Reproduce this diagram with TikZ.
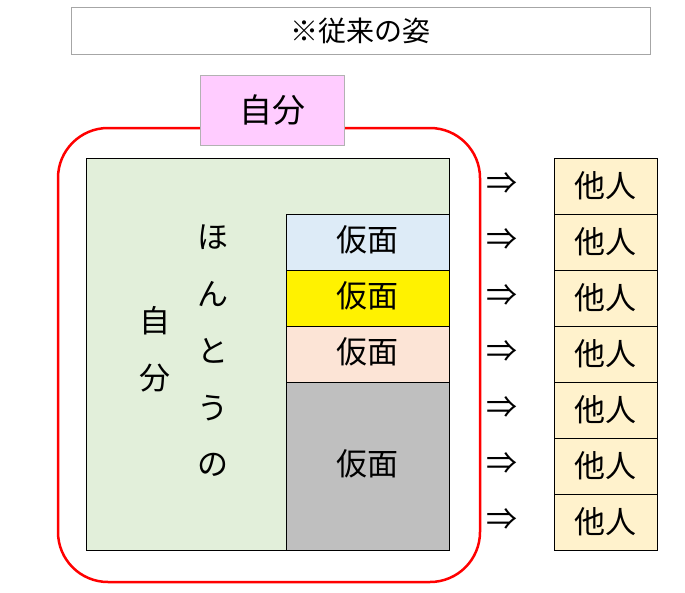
\documentclass[tikz,border=0pt]{standalone}
\usepackage{fontspec}
\setmainfont{Noto Sans CJK JP}
\definecolor{gr}{RGB}{226,239,218}
\definecolor{bl}{RGB}{221,235,247}
\definecolor{pk}{RGB}{252,228,214}
\definecolor{gy}{RGB}{191,191,191}
\definecolor{yl}{RGB}{255,242,204}
\definecolor{mg}{RGB}{255,204,255}
\begin{document}
\begin{tikzpicture}[x=1pt,y=-1pt,
  t/.style={font=\fontsize{31}{33}\selectfont,inner sep=0pt}]
\useasboundingbox (0,0) rectangle (685,592);
\node[draw=black!35,line width=1pt,minimum width=579pt,minimum height=47pt,font=\fontsize{28}{30}\selectfont] (title) at (360.5,30.5) {※従来の姿};
\draw[red,line width=2.5pt,rounded corners=50pt] (58,128) rectangle (480,582);
\node[draw=black!30,fill=mg,line width=1pt,minimum width=144pt,minimum height=70pt,font=\fontsize{33}{35}\selectfont] (me) at (272,110) {自分};
\fill[gr] (86,158) rectangle (449,550);
\draw[line width=0.8pt] (86,158) rectangle (449,550);
\node[t] (j1) at (155,321) {自};
\node[t] (j2) at (155,378) {分};
\foreach \c [count=\i] in {ほ,ん,と,う,の}
  \node[t] (h\i) at (213,180+57*\i) {\c};
\fill[bl] (286,214) rectangle (449,270);
\fill[yellow] (286,270) rectangle (449,326);
\fill[pk] (286,326) rectangle (449,382);
\fill[gy] (286,382) rectangle (449,550);
\draw[line width=0.8pt] (286,214) rectangle (449,550);
\draw[line width=0.8pt] (286,270) -- (449,270) (286,326) -- (449,326) (286,382) -- (449,382);
\node[t] (m1) at (367.5,240) {仮面};
\node[t] (m2) at (367.5,296) {仮面};
\node[t] (m3) at (367.5,352) {仮面};
\node[t] (m4) at (367.5,464) {仮面};
\foreach \i in {0,...,6}{
  \node[draw,line width=0.8pt,fill=yl,minimum width=103pt,minimum height=56pt,t] (o\i) at (605.5,186+56*\i) {他人};
  \node[t] (a\i) at (502,184+56*\i) {⇒};
}
\end{tikzpicture}
\end{document}
